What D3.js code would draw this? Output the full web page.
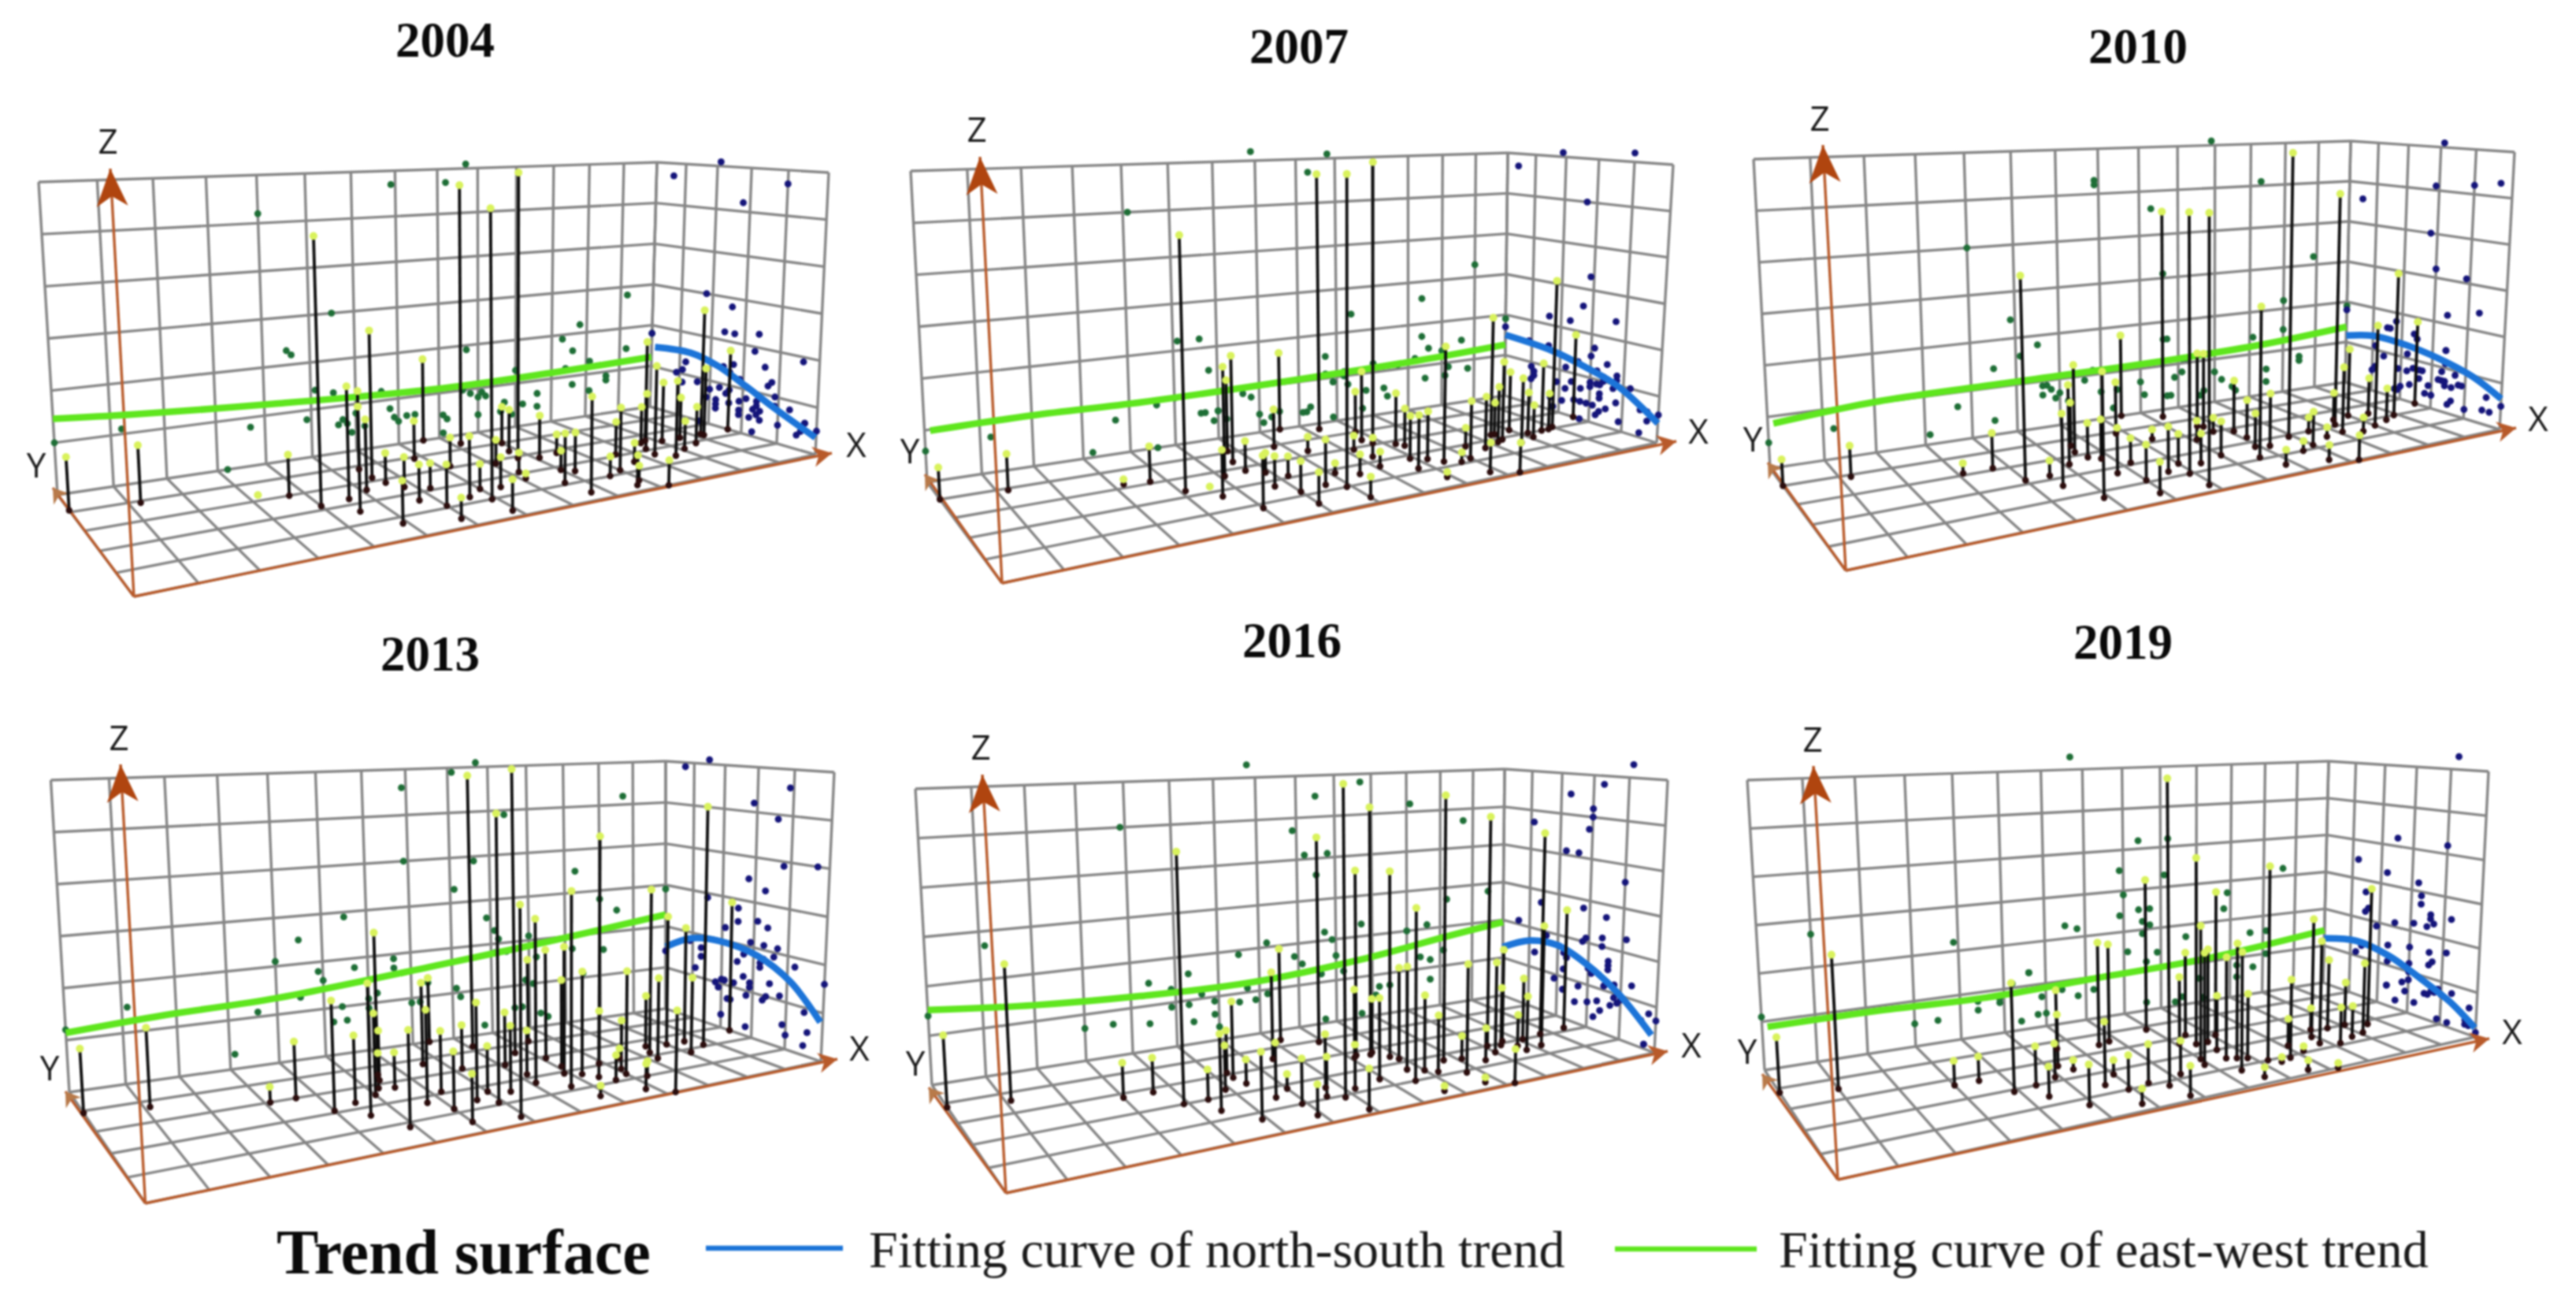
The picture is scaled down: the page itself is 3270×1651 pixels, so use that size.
<!DOCTYPE html>
<html lang="en">
<head>
<meta charset="utf-8">
<title>Trend surface</title>
<script src="https://d3js.org/d3.v7.min.js"></script>
<style>
    html, body { margin: 0; background: #fff; }
    svg { display: block; }
    #chart { filter: blur(0.9px); }
    .title { font-family: "Liberation Serif"; font-weight: bold; font-size: 63px; text-anchor: middle; fill: #0a0a0a; }
    .axisLabel { font-family: "Open Sans"; font-size: 44px; text-anchor: middle; fill: #1a1a1a; }
    .legendHead { font-family: "Liberation Serif"; font-weight: bold; font-size: 80px; fill: #0a0a0a; }
    .legendText { font-family: "Liberation Serif"; font-size: 66px; fill: #1a1a1a; }
    .grid { fill: none; stroke: #858585; stroke-width: 3.4px; }
    .edge { fill: none; stroke: #b85a2a; stroke-width: 3.4px; }
</style>
</head>
<body>
<svg width="3270" height="1651"><g id="chart"></g></svg>
<script>
    const years = ["2004", "2007", "2010", "2013", "2016", "2019"];
    const legendLabels = ["Fitting curve of north-south trend", "Fitting curve of east-west trend"];

    // cities: [x, y, z] in grid cells
    const cities2004 = [[0,4.1,1],[1.2,3.9,1.1],[3.7,3,.8],[3.2,3.3,0],[4,2.2,5.2],[4.6,2.3,2.2],[4.5,1.6,2.3],[5.1,2.6,1.4],[5.5,3.2,3],[5.5,3.8,1.3],[5.6,2.8,.6],[4.9,.7,.8],[5.8,2.4,.6],[5.7,1.6,.7],[6.2,2.1,.5],[6,1.1,.8],[5.9,.4,.4],[6.6,1.3,1.2],[7,1.6,.5],[6.9,1,5.7],[7.4,1.5,.6],[6.9,.3,.6],[8.1,1.7,.1],[8.2,2.1,.4],[7.6,5,1.8],[6.8,3.9,.8],[7.2,3.1,.6],[8.2,4.4,5.7],[8.1,2.8,.5],[9,4,.8],[8.8,3.4,.9],[8.7,2.9,6.1],[9.1,2.7,.9],[9.6,2.8,.4],[9,1.8,.4],[8.6,1.1,1],[9.2,1.6,.8],[8.7,.4,1.9],[9.6,1,.4],[10,1.2,1.3],[10.6,2.1,.7],[9.7,.3,.6],[9.9,.5,.3],[10.6,1.5,.4],[10.2,0,.5],[11.8,2.6,2.2],[11.3,1.7,1.9],[12.1,2.4,1.3],[11.4,2.1,1.2],[11.6,2.5,.8],[11.6,1.4,1.6],[12.6,2.4,.9],[12.1,1.7,.6],[12.6,1.9,.8],[13.2,2.3,1.5],[13.2,2.4,2.8],[14,2.4,1.8]];
    const cities2007 = [[0,4,.6],[1.2,3.9,.7],[3.2,3.2,.1],[3.7,3.1,.7],[4.1,2.3,5],[4.6,2.3,0],[4.6,1.7,.9],[5.1,2.7,2.2],[5.6,3.4,2.2],[5.8,4.1,1.5],[5.6,2.8,.6],[5,.8,1],[5.9,2.5,.4],[5.7,1.7,.6],[6.2,2.1,.4],[6,1.2,.6],[6,.5,.6],[7.1,1.8,.2],[6.6,1.3,.9],[6.9,1,6.2],[7.5,1.5,.4],[7,.3,.4],[8.1,1.7,.3],[8.2,2.9,.3],[7.3,3.3,.3],[6.8,3.9,.8],[7.5,5,1.7],[8.3,4.6,5.7],[8.9,4,.9],[8.7,3.4,1.5],[8.8,3.1,6.1],[8.3,2.3,.4],[9.2,2.8,1.1],[9.3,2.6,.8],[8.9,1.8,.9],[8.7,1.2,1.1],[9.2,1.6,1],[9.4,1.3,2.4],[8.9,.5,.1],[9.7,1.1,.2],[10,1.2,1.2],[10.4,1.9,.4],[9.8,.3,.6],[10.3,0,.6],[10.7,1.6,1.1],[11.5,2.3,.7],[11.4,2.3,2.6],[11.2,1.8,1.2],[11.4,1.9,1.7],[12,2.4,1.3],[11.6,1.5,1.4],[12.2,2,.9],[12.1,1.7,.7],[12.6,2,1.5],[12.8,2,.8],[13,2.1,3.3],[14,2.5,1.9]];
    const cities2010 = [[0,4,.5],[1.2,3.9,.6],[3.1,3.1,.2],[3.7,3.1,.7],[4,2.2,4],[4.5,2.2,.3],[4.5,1.6,1.4],[5.1,2.6,1.6],[5.5,3.2,1.8],[5.6,3.6,.9],[5.6,2.8,.7],[4.9,.7,2.4],[5.8,2.6,.8],[5.7,1.7,.9],[6.2,2.1,.5],[6,1.1,.7],[5.9,.4,.6],[7,1.6,.6],[6.6,1.3,.9],[6.9,1,5.2],[7.4,1.4,.6],[6.9,.3,5.3],[8,1.6,.7],[8.1,2.7,.4],[7.3,3.2,.2],[6.8,3.9,1.1],[7.5,5,1.8],[8.3,4.5,4.6],[8.6,3.5,1.6],[8.7,3.4,1.6],[8.7,3,.3],[9.1,2.8,1.1],[9.1,2.3,.8],[8.9,1.7,.7],[8.6,1.1,3.1],[9.2,1.6,1.1],[8.8,.5,.3],[9.9,1.9,6.1],[9.6,1,.2],[10,1.2,.7],[10.5,2,.3],[9.7,.3,.3],[10.2,0,.5],[10.6,1.5,.2],[11.5,2.4,.6],[11.3,2.1,5.1],[11.1,1.6,1.4],[12,2.5,1.5],[11.5,1.4,.3],[12.5,2.4,.8],[12,1.6,2.2],[12.5,1.8,.7],[12.9,2,3.2],[14,2.5,1.9]];
    const cities2013 = [[0,3.9,1.2],[1.1,3.7,1.5],[3.1,3,.3],[3.6,3,1.1],[4,2.1,2.1],[4.5,2.3,1.3],[4.5,1.6,2.5],[5,2.5,1.6],[5.2,2.8,.7],[5.4,3.2,1],[5.5,3.5,2.9],[5.5,2.7,.7],[4.9,.8,1.8],[6.6,3.7,1.7],[5.7,1.7,1.8],[7.4,5,1.4],[6.2,2.1,1.2],[6,1.2,1.1],[7.2,3.1,.9],[6,.5,.9],[8.1,4.3,5.9],[6.6,1.4,1.9],[7,1.7,.9],[6.9,1.1,5.6],[8.1,2.9,1.1],[7.4,1.5,1.3],[8.7,3.5,6.1],[6.9,.3,4],[8.2,2.2,.9],[9.4,4.1,1.8],[8.1,1.7,3.3],[9.1,2.9,2.3],[9.1,2.3,1.8],[8.9,1.9,2.6],[8.6,1.2,3.9],[9.2,1.7,2.1],[9.4,1.4,4.9],[9.9,2.1,1.1],[8.8,.5,.2],[9.6,1.1,.5],[10,1.3,2.1],[10.1,1.6,1],[10.5,2.2,.2],[9.8,.4,.5],[10.3,1,.3],[10.2,0,1.6],[11.5,2.6,1.1],[11.3,2.2,3.5],[11.2,1.8,1.7],[12,2.5,2.8],[12.5,2.5,2.5],[12.1,1.8,1.6],[12.7,2.1,5.2],[14,2.7,2.9]];
    const cities2016 = [[0,3.8,1.4],[1.1,3.6,2.7],[3,2.8,.7],[3.6,2.8,.7],[3.9,2,5],[4.4,2,.6],[4.4,1.4,1.5],[4.9,2.3,.9],[5.3,2.8,1.6],[5.3,3.1,.9],[5.4,2.4,.5],[4.9,.7,1.3],[6.5,3.4,1.9],[5.6,1.5,1.1],[6,1.8,.3],[5.9,1,.9],[5.9,.4,.6],[6.5,1.1,.8],[6.7,1.5,1.1],[6.8,.9,6.3],[7.2,1.2,.9],[6.9,.2,.8],[7.9,1.4,1.7],[7.2,4.4,2.1],[7.9,3.9,4.7],[8.1,2.7,1.5],[8.2,2.8,4.1],[8.5,2.7,5.5],[8.6,2.8,1.2],[8.8,2.4,4.1],[8.9,2.2,2],[8.7,1.6,2.2],[8.5,1,3.6],[9,1.4,1.6],[9.2,1.2,1.2],[9.7,1.7,5.8],[8.7,.3,.1],[10.1,1.6,.5],[9.7,.9,2.3],[9.7,.3,.1],[10.5,1.3,.7],[10.2,0,.7],[11.1,2,5.2],[11,1.6,2],[11.6,2.1,2.1],[11.4,1.9,1.3],[11.7,1.7,.7],[12.1,2,1.4],[11.7,1.4,1.2],[12.2,1.5,2.7],[12.7,2.1,4.7],[13.5,2.2,2.8]];
    const cities2019 = [[0,3.8,1.1],[1,3.5,2.7],[3,2.7,.5],[3.5,2.7,.5],[3.9,1.9,2.2],[4.4,2,.8],[4.4,1.4,.6],[4.9,2.2,.7],[5.2,2.7,1.1],[5.6,3.6,1.3],[5.4,2.4,.2],[4.9,.7,.8],[5.6,1.4,1.3],[6.5,3.4,2.3],[6.8,3.5,2.2],[6,1.8,.3],[5.9,1,.7],[5.8,.3,.3],[6.4,1.1,.8],[7.9,3.8,3.5],[6.7,.8,6.3],[7.2,1.2,.7],[6.8,.2,.6],[8.1,2.7,1.5],[8.5,3.1,1.9],[8.4,2.5,4.2],[8,1.7,2.9],[7.9,1.4,2.4],[8.7,2.5,2.1],[8.6,2,1.2],[9.1,2.8,3.3],[8.5,1.5,2.2],[8.7,1.4,2.5],[8.4,.8,2.5],[8.9,1.3,1.4],[9.2,1,4.2],[8.6,.3,.2],[9.7,.9,1.7],[10.1,1.5,.6],[9.4,.8,.1],[9.6,.2,.2],[11.2,2.1,.5],[10.9,1.7,2.7],[10.8,1.3,2.3],[11.6,2,1.6],[10.2,0,.1],[11.2,1.1,.8],[12.1,2,1],[11.7,1.3,.7],[12.1,1.4,1.6],[12.6,1.8,3.2],[10.2,1.1,.1]];

    // fitted east-west curve on the back wall: [x, z]
    const eastWest2004 = [[0,1.46],[1.4,1.36],[4.2,1.22],[8.1,1.1],[11.1,1.14],[14,1.22]];
    const eastWest2007 = [[.1,.98],[2,1.02],[4.3,1],[8.2,1.06],[11.3,1.14],[14,1.26]];
    const eastWest2010 = [[.1,.86],[2,1.02],[4.3,1.06],[8.3,1.1],[11.4,1.2],[14,1.38]];
    const eastWest2013 = [[0,1.14],[1.8,1.26],[4,1.34],[7.7,1.66],[10.7,1.94],[14,2.28]];
    const eastWest2016 = [[0,1.52],[2,1.34],[4.2,1.24],[6.8,1.22],[9.8,1.44],[12.2,1.74],[14,1.94]];
    const eastWest2019 = [[.1,.88],[2.2,.9],[4.6,.86],[7.2,.96],[10.3,1.08],[14,1.42]];

    // fitted north-south curve on the right wall: [y, z]
    const northSouth2004 = [[4.88,1.48],[3.64,1.54],[2.76,1.38],[1.92,1.08],[1.12,.76],[.02,.36]];
    const northSouth2007 = [[5,1.5],[3.28,1.4],[2.18,1.22],[1.16,.98],[0,.42]];
    const northSouth2010 = [[5,1.16],[4.02,1.32],[2.86,1.3],[1.8,1.18],[.82,.98],[0,.66]];
    const northSouth2013 = [[5,1.5],[4.06,1.86],[3.12,1.96],[1.88,1.84],[.9,1.46],[.06,.8]];
    const northSouth2016 = [[5,1.28],[3.98,1.66],[3.02,1.74],[2.1,1.5],[1.08,1.04],[.1,.36]];
    const northSouth2019 = [[5,1.2],[3.8,1.38],[2.64,1.24],[1.56,.9],[.74,.6],[.02,.2]];

    const citiesByYear = [cities2004, cities2007, cities2010, cities2013, cities2016, cities2019];
    const eastWestByYear = [eastWest2004, eastWest2007, eastWest2010, eastWest2013, eastWest2016, eastWest2019];
    const northSouthByYear = [northSouth2004, northSouth2007, northSouth2010, northSouth2013, northSouth2016, northSouth2019];

    // where each box sits on the page
    const frames = [
        {title: [565, 72], A: [170, 757], B: [1035, 577], C: [73, 628], D: [825, 516], Ct: [49, 231], Dt: [834, 206], Bt: [1052, 219], zTip: [140, 214], yTip: [67, 619], xTip: [1056, 575], zLabel: [137, 195], yLabel: [46, 606], xLabel: [1087, 580]},
        {title: [1649, 80], A: [1272, 740], B: [2103, 562], C: [1177, 612], D: [1910, 502], Ct: [1156, 217], Dt: [1914, 194], Bt: [2124, 209], zTip: [1244, 199], yTip: [1174, 602], xTip: [2128, 560], zLabel: [1240, 180], yLabel: [1155, 588], xLabel: [2156, 563]},
        {title: [2714, 80], A: [2343, 724], B: [3173, 545], C: [2247, 594.5], D: [2977, 485], Ct: [2226, 202], Dt: [2984, 179], Bt: [3192, 193], zTip: [2314, 184], yTip: [2244, 587], xTip: [3194, 543], zLabel: [2310, 166], yLabel: [2225, 573], xLabel: [3222, 547]},
        {title: [546, 851], A: [184.5, 1527], B: [1042, 1347], C: [88, 1386], D: [845, 1280], Ct: [64.5, 990], Dt: [845, 966], Bt: [1059, 980], zTip: [153, 970], yTip: [83, 1385], xTip: [1063, 1344], zLabel: [151, 952], yLabel: [63, 1371], xLabel: [1091, 1346]},
        {title: [1640, 834], A: [1277, 1514], B: [2100, 1336], C: [1183, 1377], D: [1907, 1263], Ct: [1162, 1001], Dt: [1910, 976], Bt: [2117, 990], zTip: [1247, 983], yTip: [1179, 1380], xTip: [2117, 1334], zLabel: [1245, 964], yLabel: [1162, 1365], xLabel: [2147, 1342]},
        {title: [2695, 836], A: [2333, 1497], B: [3142, 1316], C: [2240, 1358], D: [2949, 1247], Ct: [2218, 990], Dt: [2956, 966], Bt: [3159, 979], zTip: [2302, 972], yTip: [2237, 1363], xTip: [3160, 1318], zLabel: [2301, 954], yLabel: [2218, 1350], xLabel: [3189, 1325]}
    ];

    const xCells = 14, yCells = 5, zCells = 6;

    // perspective spacing of the grid cells along x and y
    const xPersp = 0.36, yPersp = 0.22;
    const xScale = d3.scaleLinear().domain([0, xCells]).range([0, 1]);
    const yScale = d3.scaleLinear().domain([0, yCells]).range([0, 1]);
    const zScale = d3.scaleLinear().domain([0, zCells]).range([0, 1]);
    const warp = (t, k) => (1 + k) * t / (1 + k * t);
    const mix = (a, b, t) => [a[0] + (b[0] - a[0]) * t, a[1] + (b[1] - a[1]) * t];

    function makeProjection(f) {
        // front top corner is not drawn, work it out from the other heights
        let hA = (f.C[1] - f.Ct[1]) * (f.B[1] - f.Bt[1]) / (f.D[1] - f.Dt[1]);
        let At = [f.A[0] + (f.zTip[0] - f.A[0]) * hA / (f.A[1] - f.zTip[1]), f.A[1] - hA];
        return function (x, y, z) {
            let s = warp(xScale(x), xPersp), t = warp(yScale(y), yPersp);
            let low = mix(mix(f.A, f.B, s), mix(f.C, f.D, s), t);
            let high = mix(mix(At, f.Bt, s), mix(f.Ct, f.Dt, s), t);
            return mix(low, high, zScale(z));
        };
    }

    const chart = d3.select("#chart");
    const segment = d3.line();

    function arrowHead(tip, from, len, half, notch) {
        let a = Math.atan2(tip[1] - from[1], tip[0] - from[0]);
        let ux = Math.cos(a), uy = Math.sin(a);
        return [
            tip,
            [tip[0] - ux * len - uy * half, tip[1] - uy * len + ux * half],
            [tip[0] - ux * (len - notch), tip[1] - uy * (len - notch)],
            [tip[0] - ux * len + uy * half, tip[1] - uy * len - ux * half]
        ];
    }

    years.forEach(function (year, i) {
        let f = frames[i];
        let project = makeProjection(f);
        let g = chart.append("g");
        let cities = citiesByYear[i];

        g.append("text").attr("class", "title").attr("x", f.title[0]).attr("y", f.title[1]).text(year);

        // floor and the two walls
        let gridLines = [];
        d3.range(0, xCells + 1).forEach(x => {
            gridLines.push([project(x, 0, 0), project(x, yCells, 0)]);
            gridLines.push([project(x, yCells, 0), project(x, yCells, zCells)]);
        });
        d3.range(0, yCells + 1).forEach(y => {
            gridLines.push([project(0, y, 0), project(xCells, y, 0)]);
            gridLines.push([project(xCells, y, 0), project(xCells, y, zCells)]);
        });
        d3.range(1, zCells + 1).forEach(z => {
            gridLines.push([project(0, yCells, z), project(xCells, yCells, z)]);
            gridLines.push([project(xCells, yCells, z), project(xCells, 0, z)]);
        });
        g.append("g").selectAll("path").data(gridLines).join("path")
            .attr("class", "grid").attr("d", segment);

        // cities pushed against the back wall and the right wall
        g.append("g").selectAll("circle").data(cities).join("circle")
            .attr("cx", d => project(d[0], yCells, d[2])[0])
            .attr("cy", d => project(d[0], yCells, d[2])[1])
            .attr("r", 4.4).attr("fill", "#1e6e36");
        g.append("g").selectAll("circle").data(cities).join("circle")
            .attr("cx", d => project(xCells, d[1], d[2])[0])
            .attr("cy", d => project(xCells, d[1], d[2])[1])
            .attr("r", 4.4).attr("fill", "#15157a");

        // x, y and z axes
        let axes = [[f.A, f.xTip, 24, 13, 7, "#b85a2a"], [f.A, f.yTip, 18, 12, 5, "#b87a4a"], [f.A, f.zTip, 48, 20, 13, "#b0450f"]];
        axes.forEach(function (a) {
            g.append("path").attr("class", "edge").attr("d", segment([a[0], a[1]]));
            g.append("polygon").attr("fill", a[5])
                .attr("points", arrowHead(a[1], a[0], a[2], a[3], a[4]).join(" "));
        });

        g.append("text").attr("class", "axisLabel").attr("x", f.zLabel[0]).attr("y", f.zLabel[1]).text("Z");
        g.append("text").attr("class", "axisLabel").attr("x", f.yLabel[0]).attr("y", f.yLabel[1]).text("Y");
        g.append("text").attr("class", "axisLabel").attr("x", f.xLabel[0]).attr("y", f.xLabel[1]).text("X");

        // fitted curves
        let curve = d3.line().curve(d3.curveCatmullRom);
        g.append("path").attr("fill", "none").attr("stroke", "#5fe61e").attr("stroke-width", 8.5)
            .attr("d", curve(eastWestByYear[i].map(d => project(d[0], yCells, d[1]))));
        g.append("path").attr("fill", "none").attr("stroke", "#1c74d8").attr("stroke-width", 8.5)
            .attr("d", curve(northSouthByYear[i].map(d => project(xCells, d[0], d[1]))));

        // stems with their foot and head dots
        g.append("g").selectAll("path").data(cities).join("path")
            .attr("fill", "none").attr("stroke", "#0c0c0c").attr("stroke-width", 3.8)
            .attr("d", d => segment([project(d[0], d[1], 0), project(d[0], d[1], d[2])]));
        g.append("g").selectAll("circle").data(cities).join("circle")
            .attr("cx", d => project(d[0], d[1], 0)[0])
            .attr("cy", d => project(d[0], d[1], 0)[1])
            .attr("r", 4.2).attr("fill", "#2b0d0d");
        g.append("g").selectAll("circle").data(cities).join("circle")
            .attr("cx", d => project(d[0], d[1], d[2])[0])
            .attr("cy", d => project(d[0], d[1], d[2])[1])
            .attr("r", 5).attr("fill", "#d9f25c");
    });

    // legend
    chart.append("text").attr("class", "legendHead").attr("x", 351).attr("y", 1616).text("Trend surface");
    chart.append("path").attr("fill", "none").attr("stroke", "#1c74d8").attr("stroke-width", 6.5)
        .attr("d", segment([[896, 1584], [1070, 1584]]));
    chart.append("text").attr("class", "legendText").attr("x", 1103).attr("y", 1608).text(legendLabels[0]);
    chart.append("path").attr("fill", "none").attr("stroke", "#5fe61e").attr("stroke-width", 6.5)
        .attr("d", segment([[2050, 1585], [2230, 1585]]));
    chart.append("text").attr("class", "legendText").attr("x", 2258).attr("y", 1608).text(legendLabels[1]);
</script>
</body>
</html>
